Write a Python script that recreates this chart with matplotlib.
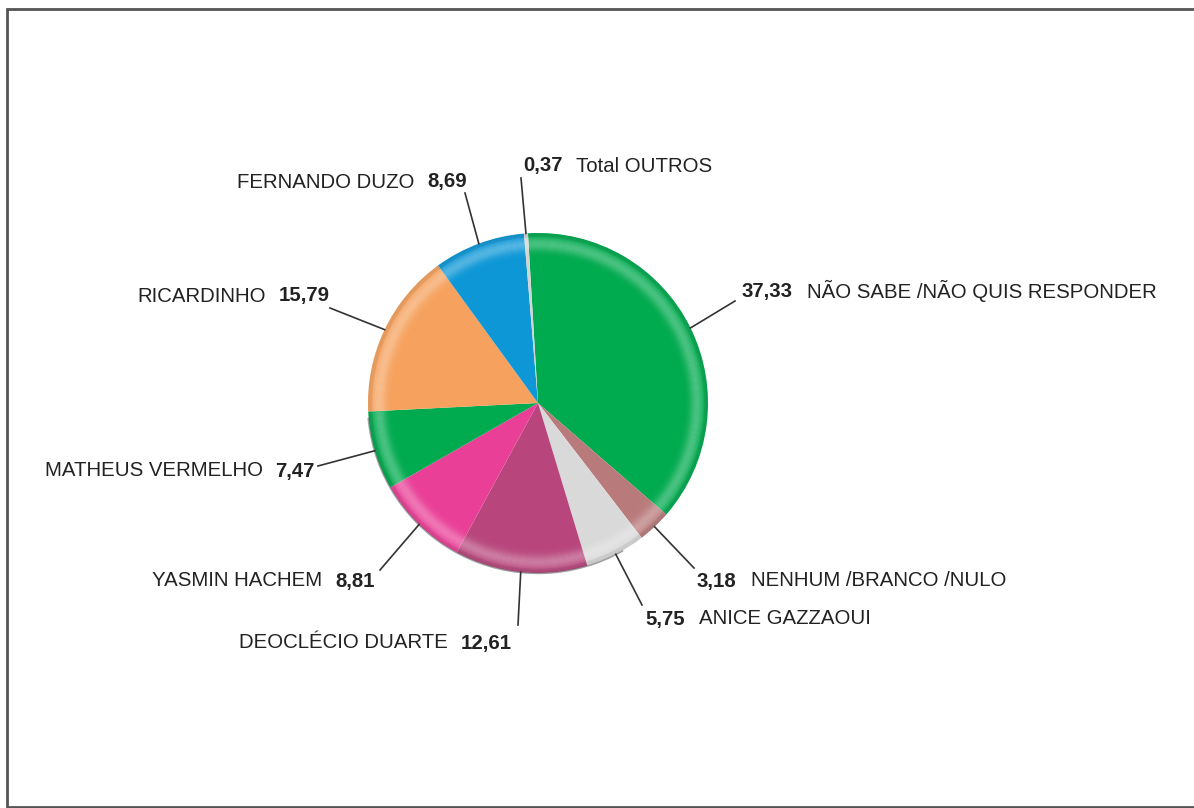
import numpy as np
import matplotlib
matplotlib.use("Agg")
import matplotlib.pyplot as plt
from matplotlib.patches import Wedge

plt.rcParams['font.family'] = ['Liberation Sans', 'DejaVu Sans']

# dados
nomes = ['NÃO SABE /NÃO QUIS RESPONDER', 'NENHUM /BRANCO /NULO', 'ANICE GAZZAOUI',
         'DEOCLÉCIO DUARTE', 'YASMIN HACHEM', 'MATHEUS VERMELHO', 'RICARDINHO',
         'FERNANDO DUZO', 'Total OUTROS']
valores = [37.33, 3.18, 5.75, 12.61, 8.81, 7.47, 15.79, 8.69, 0.37]
cores = ['#00aa4e', '#b97a7b', '#d9d9d9', '#b8467c', '#ea3f97', '#00aa4e',
         '#f6a25e', '#0d97d7', '#d4d4d4']

# layout (pixels, y para baixo): ponta da linha, posicao do texto, lado
W, H = 1194, 808
fim_linha = [(735, 301), (694, 568), (642, 605), (518, 625), (380, 570),
             (318, 466), (330, 308), (465, 193), (521, 178)]
pos_texto = [(742, 290), (697, 579), (645, 617), (512, 641), (375, 579),
             (315, 469), (330, 294), (467, 180), (523, 164)]
lado = ['R', 'R', 'R', 'L', 'L', 'L', 'L', 'L', 'R']

cx, cy, raio = 538, H - 403, 170

fig = plt.figure(figsize=(W / 100, H / 100), dpi=100)
ax = fig.add_axes([0, 0, 1, 1])

wedges, _ = ax.pie(valores, colors=cores, startangle=93.4, counterclock=False,
                   center=(cx, cy), radius=raio, frame=True,
                   wedgeprops=dict(linewidth=0))
ax.set_xlim(0, W)
ax.set_ylim(0, H)
ax.set_aspect('equal')
ax.axis('off')

# moldura: topo, esquerda e base (lado direito fica fora da imagem)
ax.plot([W + 20, 7, 7, W + 20], [H - 9, H - 9, 1, 1], color='#555555', lw=2,
        solid_joinstyle='miter')

# brilho na borda (efeito 3D)
n = 30
rs = np.linspace(0.82, 1.0, n + 1)
for w in wedges:
    for i in range(n):
        r0, r1 = rs[i], rs[i + 1]
        rm = 0.5 * (r0 + r1)
        a = 0.30 * np.exp(-((rm - 0.935) / 0.04) ** 2)
        ax.add_patch(Wedge((cx, cy), raio * r1, w.theta1, w.theta2,
                           width=raio * (r1 - r0), fc='white', alpha=a, lw=0))
    # leve escurecimento na borda
    ax.add_patch(Wedge((cx, cy), raio, w.theta1, w.theta2, width=raio * 0.025,
                       fc='black', alpha=0.07, lw=0))

# sombra fina no lado inferior esquerdo
ax.add_patch(Wedge((cx, cy), raio + 1.2, 185, 300, width=1.5, fc='#444444', alpha=0.5, lw=0))

# linhas e rotulos
fig.canvas.draw()
rend = fig.canvas.get_renderer()
fs = 14.7
for w, nome, v, fl, pt, s in zip(wedges, nomes, valores, fim_linha, pos_texto, lado):
    ang = np.deg2rad(0.5 * (w.theta1 + w.theta2))
    x0, y0 = cx + raio * np.cos(ang), cy + raio * np.sin(ang)
    ax.plot([x0, fl[0]], [y0, H - fl[1]], color='#333333', lw=1.2)
    val = f'{v:.2f}'.replace('.', ',')
    tx, ty = pt[0], H - (pt[1] + 7.5)
    if s == 'R':
        t = ax.text(tx, ty, val, fontsize=fs, fontweight='bold', color='#222222',
                    ha='left', va='baseline')
        bb = t.get_window_extent(rend)
        ax.text(tx + bb.width + 14, ty, nome, fontsize=fs, color='#222222',
                ha='left', va='baseline')
    else:
        t = ax.text(tx, ty, val, fontsize=fs, fontweight='bold', color='#222222',
                    ha='right', va='baseline')
        bb = t.get_window_extent(rend)
        ax.text(tx - bb.width - 13, ty, nome, fontsize=fs, color='#222222',
                ha='right', va='baseline')

fig.savefig('out.png', dpi=100, facecolor='white')
